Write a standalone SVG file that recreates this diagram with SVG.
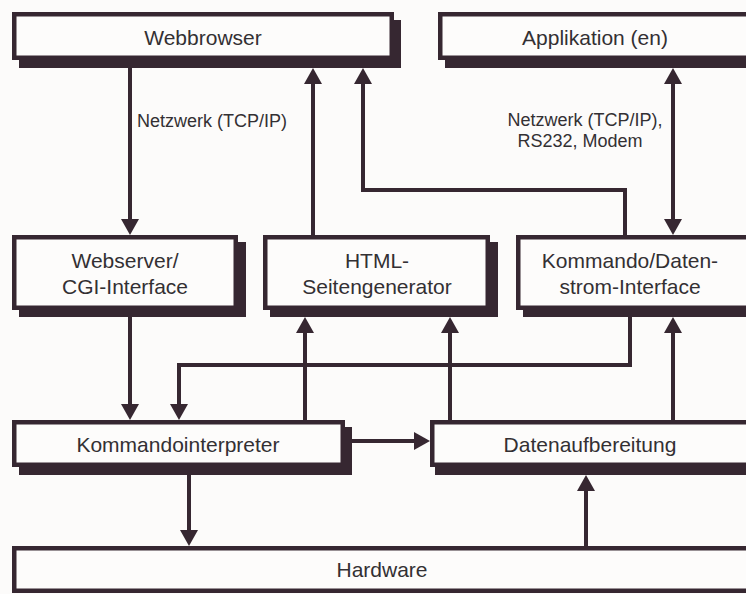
<svg xmlns="http://www.w3.org/2000/svg" width="746" height="594" viewBox="0 0 746 594">
<defs>
<style>
.bg{fill:#fcfbfa}
.shadow{fill:#362731}
.box{fill:#fdfcfb;stroke:#362731;stroke-width:4.5}
.lbl{font-family:"Liberation Sans",Arial,sans-serif;font-size:21px;fill:#333033;text-anchor:middle}
.net{font-family:"Liberation Sans",Arial,sans-serif;font-size:18px;fill:#333033}
.con{fill:none;stroke:#362731;stroke-width:4}
</style>
<marker id="ah" viewBox="0 0 16 18" refX="6" refY="9" markerWidth="16" markerHeight="18" markerUnits="userSpaceOnUse" orient="auto-start-reverse">
<path d="M0,0 L16,9 L0,18 z" fill="#362731"/>
</marker>
</defs>
<rect class="bg" x="0" y="0" width="746" height="594"/>

<g id="webbrowser">
<rect class="shadow" x="19" y="20" width="382" height="48"/>
<rect class="box" x="14.25" y="14.25" width="377.5" height="43.5"/>
<text class="lbl" x="203" y="45">Webbrowser</text>
</g>

<g id="applikation">
<rect class="shadow" x="445" y="20" width="320" height="48"/>
<rect class="box" x="440.25" y="14.25" width="320" height="43.5"/>
<text class="lbl" x="595" y="45">Applikation (en)</text>
</g>

<g id="webserver">
<rect class="shadow" x="19" y="242" width="227" height="75"/>
<rect class="box" x="14.25" y="237.25" width="221.5" height="70.5"/>
<text class="lbl" x="125" y="268">Webserver/</text>
<text class="lbl" x="125" y="294">CGI-Interface</text>
</g>

<g id="html">
<rect class="shadow" x="270" y="242" width="228" height="75"/>
<rect class="box" x="265.25" y="237.25" width="222.5" height="70.5"/>
<text class="lbl" x="377" y="268">HTML-</text>
<text class="lbl" x="377" y="294">Seitengenerator</text>
</g>

<g id="kommando">
<rect class="shadow" x="523" y="242" width="240" height="75"/>
<rect class="box" x="518.25" y="237.25" width="240" height="70.5"/>
<text class="lbl" x="630" y="268">Kommando/Daten-</text>
<text class="lbl" x="630" y="294">strom-Interface</text>
</g>

<g id="kommandointerpreter">
<rect class="shadow" x="19" y="427" width="333" height="48"/>
<rect class="box" x="14.25" y="422.25" width="328.5" height="42.5"/>
<text class="lbl" x="178" y="452">Kommandointerpreter</text>
</g>

<g id="datenaufbereitung">
<rect class="shadow" x="435" y="427" width="330" height="48"/>
<rect class="box" x="432.25" y="422.25" width="330" height="42.5"/>
<text class="lbl" x="590" y="452">Datenaufbereitung</text>
</g>

<g id="hardware">
<rect class="box" x="14.25" y="548.25" width="750" height="42.5"/>
<text class="lbl" x="382" y="577">Hardware</text>
</g>

<g id="connectors">
<path class="con" d="M130,68 V225" marker-end="url(#ah)"/>
<path class="con" d="M313,235 V78" marker-end="url(#ah)"/>
<path class="con" d="M625,235 V190 H363 V78" marker-end="url(#ah)"/>
<path class="con" d="M673,78 V225" marker-start="url(#ah)" marker-end="url(#ah)"/>
<path class="con" d="M130,317 V410" marker-end="url(#ah)"/>
<path class="con" d="M630,317 V365 H179 V410" marker-end="url(#ah)"/>
<path class="con" d="M305,420 V327" marker-end="url(#ah)"/>
<path class="con" d="M450,420 V327" marker-end="url(#ah)"/>
<path class="con" d="M673,420 V327" marker-end="url(#ah)"/>
<path class="con" d="M352,441 H420" marker-end="url(#ah)"/>
<path class="con" d="M189,475 V536" marker-end="url(#ah)"/>
<path class="con" d="M586,546 V485" marker-end="url(#ah)"/>
</g>

<g id="labels">
<text class="net" x="137" y="127">Netzwerk (TCP/IP)</text>
<text class="net" x="585" y="126" text-anchor="middle">Netzwerk (TCP/IP),</text>
<text class="net" x="580" y="147" text-anchor="middle">RS232, Modem</text>
</g>
</svg>
